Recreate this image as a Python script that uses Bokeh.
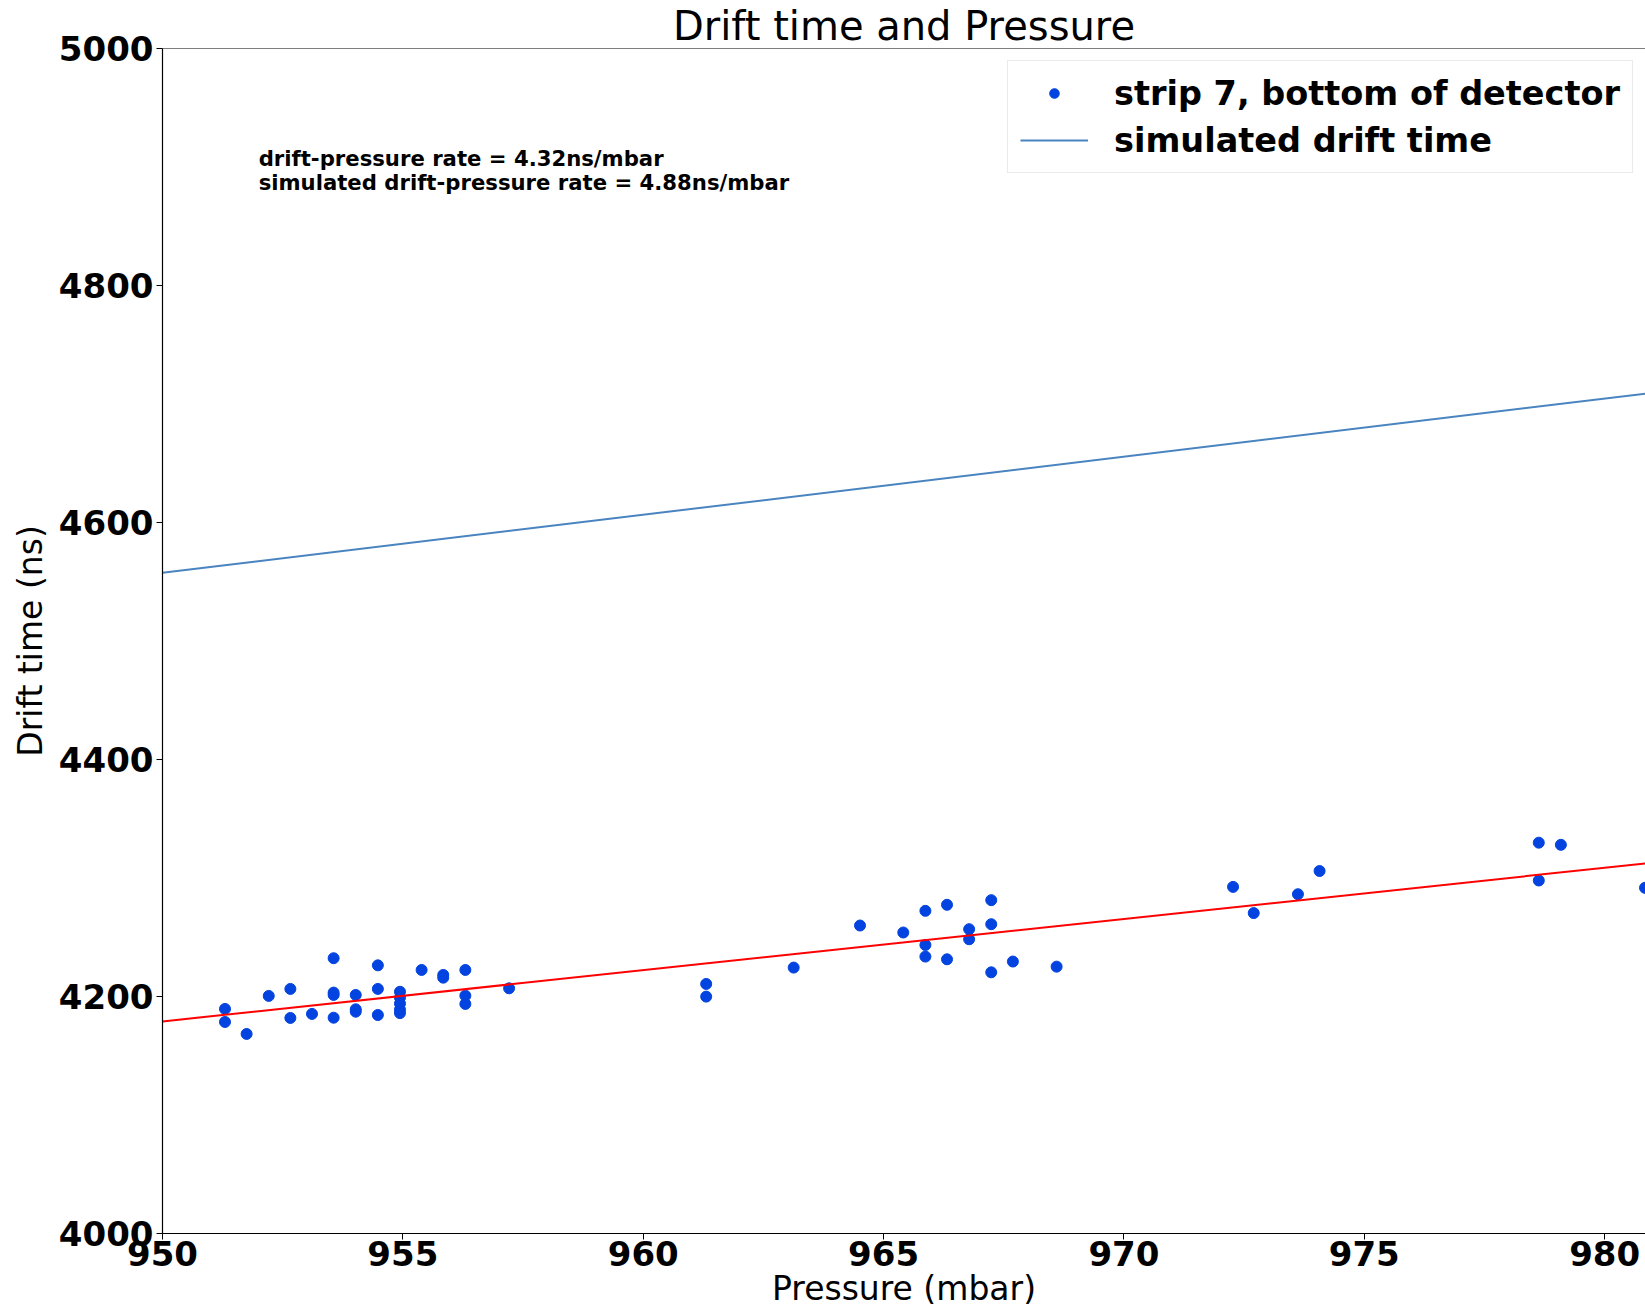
from bokeh.plotting import figure
from bokeh.models import Range1d, FixedTicker, Label, Span, Legend, LegendItem
from bokeh.embed import file_html
from bokeh.resources import INLINE

# ---- data ----
pressure = [951.30, 951.30, 951.75, 952.21, 952.66, 952.66, 953.11, 953.56, 953.56, 953.56,
            953.56, 954.02, 954.02, 954.02, 954.48, 954.48, 954.48, 954.94, 954.94, 954.94,
            954.94, 954.94, 955.39, 955.84, 955.84, 956.30, 956.30, 956.30, 957.21, 961.31,
            961.31, 963.13, 964.51, 965.41, 965.87, 965.87, 965.87, 966.32, 966.32, 966.78,
            966.78, 967.24, 967.24, 967.24, 967.69, 968.60, 972.27, 972.70, 973.62, 974.07,
            978.63, 978.63, 979.09, 980.84]
drift_time = [4189.5, 4178.5, 4168.4, 4200.5, 4206.4, 4181.9, 4185.3, 4232.3, 4203.3, 4201.3,
              4182.1, 4201.3, 4189.2, 4187.2, 4226.3, 4206.4, 4184.4, 4204.0, 4199.0, 4194.0,
              4189.0, 4186.0, 4222.4, 4218.2, 4215.9, 4222.4, 4200.7, 4193.7, 4206.9, 4210.6,
              4199.9, 4224.4, 4259.9, 4254.0, 4272.3, 4243.5, 4233.7, 4277.4, 4231.4, 4256.8,
              4248.3, 4281.3, 4261.0, 4220.4, 4229.5, 4225.2, 4292.5, 4270.4, 4286.3, 4305.9,
              4329.8, 4297.9, 4328.0, 4291.7]
fit_x = [950.0, 980.85]
fit_y = [4179.0, 4312.3]
sim_x = [950.0, 980.85]
sim_y = [4557.5, 4708.8]
x_ticks = [950, 955, 960, 965, 970, 975, 980]
y_ticks = [4000, 4200, 4400, 4600, 4800, 5000]
rate_text = "drift-pressure rate = 4.32ns/mbar"
sim_rate_text = "simulated drift-pressure rate = 4.88ns/mbar"

FONT = "DejaVu Sans"

p = figure(width=1645, height=1311, output_backend="svg", toolbar_location=None,
           x_range=Range1d(950, 980.85), y_range=Range1d(4000, 5000),
           min_border_left=162, min_border_right=0, min_border_top=46, min_border_bottom=78,
           title="Drift time and Pressure")
p.background_fill_color = "white"
p.border_fill_color = "white"
p.outline_line_color = None
p.grid.visible = False

p.title.text_font = FONT
p.title.text_font_size = "40px"
p.title.text_font_style = "normal"
p.title.text_color = "black"
p.title.align = "center"
p.title.standoff = 0
p.title.offset = 0

for ax in (p.xaxis[0], p.yaxis[0]):
    ax.axis_line_color = "black"
    ax.axis_line_width = 1.2
    ax.major_tick_out = 6
    ax.major_tick_in = 0
    ax.major_tick_line_color = "black"
    ax.minor_tick_line_color = None
    ax.major_label_text_font = FONT
    ax.major_label_text_font_size = "34px"
    ax.major_label_text_font_style = "bold"
    ax.major_label_text_color = "black"
    ax.axis_label_text_font = FONT
    ax.axis_label_text_font_size = "33px"
    ax.axis_label_text_font_style = "normal"
    ax.axis_label_text_color = "black"

p.xaxis[0].ticker = FixedTicker(ticks=x_ticks)
p.yaxis[0].ticker = FixedTicker(ticks=y_ticks)
p.xaxis[0].axis_label = "Pressure (mbar)"
p.yaxis[0].axis_label = "Drift time (ns)"
p.xaxis[0].major_label_standoff = 1
p.xaxis[0].axis_label_standoff = 0
p.yaxis[0].major_label_standoff = 3
p.yaxis[0].axis_label_standoff = 6

p.add_layout(Span(location=5000, dimension="width", line_color="black", line_width=1.2))

# smaller marker used only for the legend entry (hidden under the first real point)
pts_key = p.scatter(pressure[:1], drift_time[:1], size=8, color="#0343df", line_color="#0343df")
pts = p.scatter(pressure, drift_time, size=11, color="#0343df", line_color="#0343df")
sim = p.line(sim_x, sim_y, line_color="#4a84c0", line_width=2)
p.line(fit_x, fit_y, line_color="red", line_width=2)

p.add_layout(Label(x=952.0, y=4907, text=rate_text, text_font=FONT, text_font_size="21.2px",
                   text_font_style="bold", text_baseline="middle", text_color="black"))
p.add_layout(Label(x=952.0, y=4887, text=sim_rate_text, text_font=FONT, text_font_size="21.2px",
                   text_font_style="bold", text_baseline="middle", text_color="black"))

legend = Legend(items=[LegendItem(label="strip 7, bottom of detector", renderers=[pts_key]),
                       LegendItem(label="simulated drift time", renderers=[sim])],
                location="top_right")
legend.label_text_font = FONT
legend.label_text_font_size = "33.5px"
legend.label_text_font_style = "bold"
legend.label_text_color = "black"
legend.glyph_width = 68
legend.glyph_height = 24
legend.label_height = 40
legend.spacing = 7
legend.padding = 12
legend.margin = 12
legend.label_standoff = 26
legend.border_line_color = "#d5d5d5"
legend.border_line_width = 1.5
legend.background_fill_alpha = 0.8
p.add_layout(legend)

open("out.html", "w").write(file_html(p, INLINE))
